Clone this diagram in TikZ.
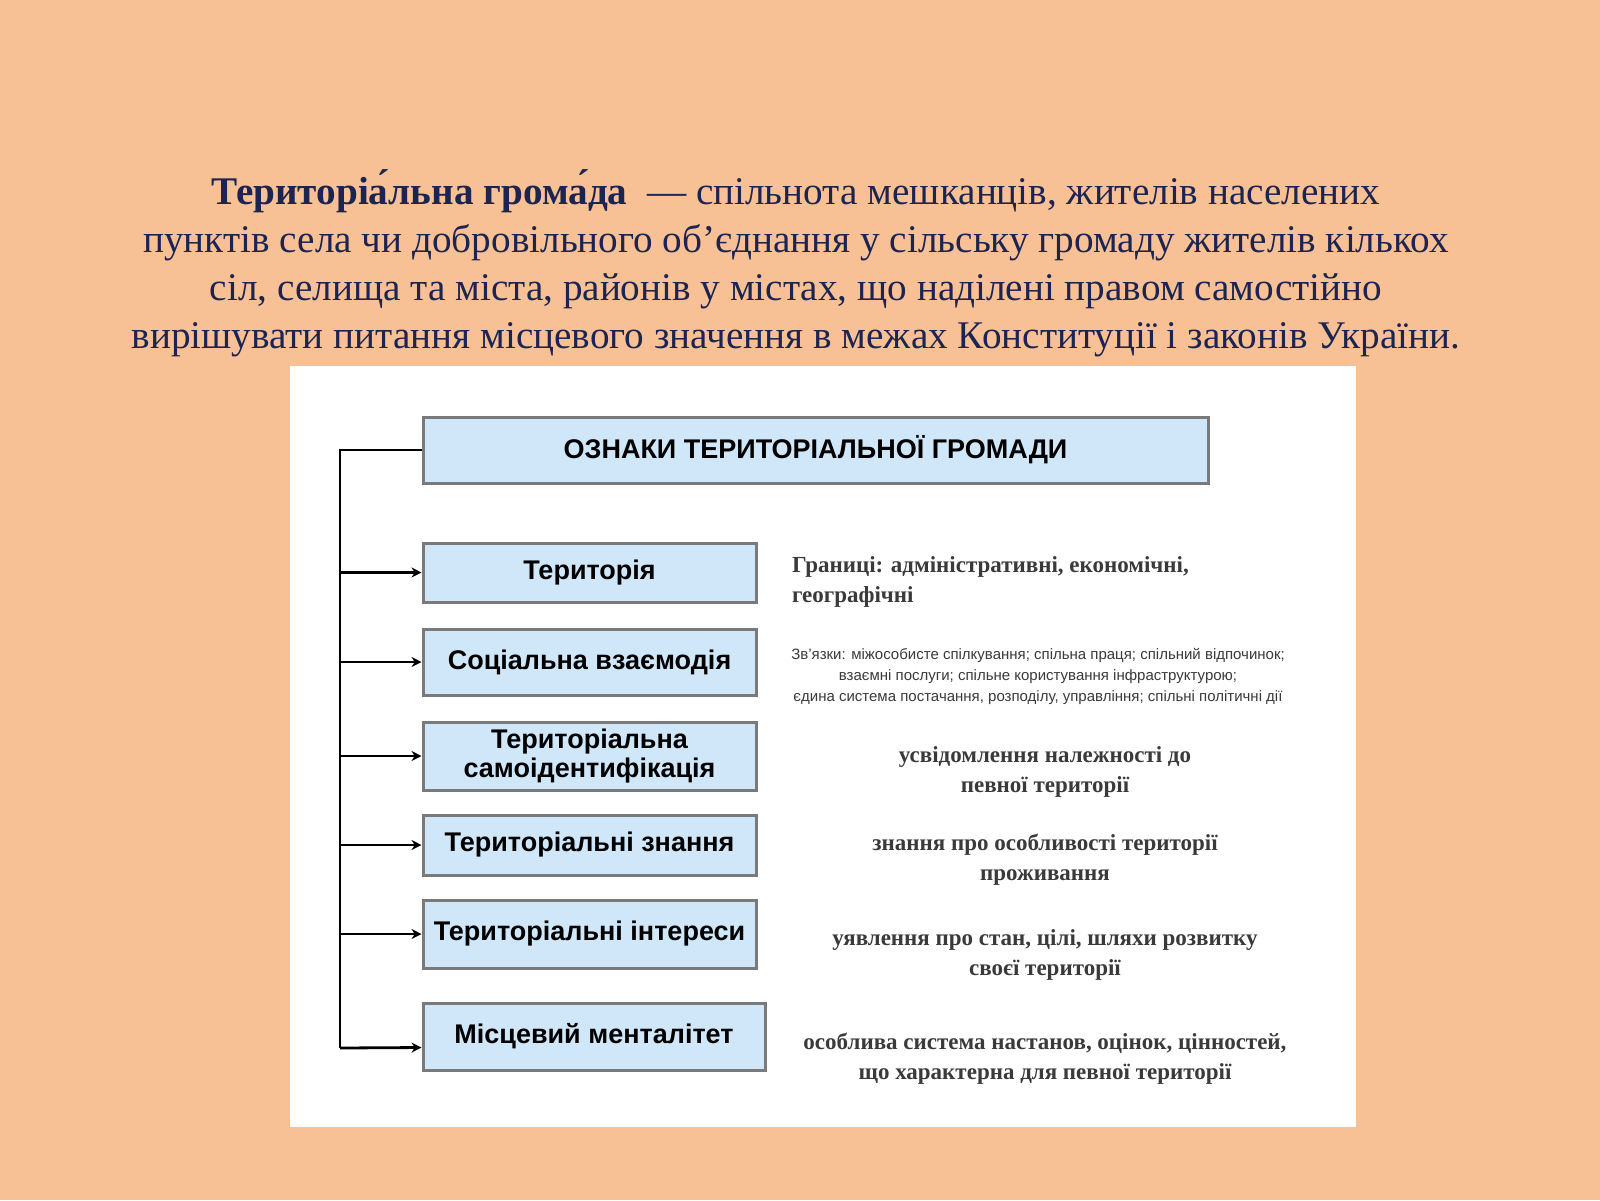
\documentclass[tikz,border=0pt]{standalone}
\usepackage{fontspec}
\setmainfont{Liberation Serif}
\setsansfont{Liberation Sans}
\usetikzlibrary{arrows.meta}
\definecolor{bg}{HTML}{F8C195}
\definecolor{navy}{HTML}{1C2451}
\definecolor{boxfill}{HTML}{CFE7F8}
\definecolor{boxline}{HTML}{7A7A7A}
\definecolor{gtext}{HTML}{3A3A3A}
\tikzset{
  sbox/.style={draw=boxline, line width=1.5pt, fill=boxfill, inner sep=0pt, font=\sffamily\bfseries\fontsize{13.5}{14.5}\selectfont, align=center},
  desc/.style={font=\bfseries\fontsize{11.5}{15}\selectfont, text=gtext, align=center},
  conn/.style={line width=1.4pt, black},
  arr/.style={conn, -{Stealth[length=5pt,width=5pt]}}
}
\begin{document}
\begin{tikzpicture}[x=0.5pt,y=-0.5pt]
\fill[bg] (0,0) rectangle (1600,1200);
\useasboundingbox (0,0) rectangle (1600,1200);
\node[text=navy, align=center, font=\fontsize{19.6}{24}\selectfont] (title) at (796,263)
 {\textbf{Територіа́льна грома́да} \ — спільнота мешканців, жителів населених\\
  пунктів села чи добровільного об\symbol{39}єднання у сільську громаду жителів кількох\\
  сіл, селища та міста, районів у містах, що наділені правом самостійно\\
  вирішувати питання місцевого значення в межах Конституції і законів України.};
\fill[white] (290,366) rectangle (1356,1127);
\node[sbox, minimum width=392.5pt, minimum height=33pt] (h) at (815.5,450) {ОЗНАКИ ТЕРИТОРІАЛЬНОЇ ГРОМАДИ};
\node[sbox, minimum width=166.5pt, minimum height=29.5pt] (b1) at (589.5,572.5) {Територія};
\node[sbox, minimum width=166.5pt, minimum height=33pt] (b2) at (589.5,662) {Соціальна взаємодія};
\node[sbox, minimum width=166.5pt, minimum height=34pt] (b3) at (589.5,756) {Територіальна\\самоідентифікація};
\node[sbox, minimum width=166.5pt, minimum height=30pt] (b4) at (589.5,845) {Територіальні знання};
\node[sbox, minimum width=166.5pt, minimum height=34pt] (b5) at (589.5,934) {Територіальні інтереси};
\node[sbox, minimum width=171pt, minimum height=33.5pt] (b6) at (594,1036.5) {Місцевий менталітет};
\coordinate (top) at (340,450);
\coordinate (bot) at (340,1048);
\draw[conn] (h.west) -- (top) -- (bot);
\foreach \b in {b1,b2,b3,b4,b5}{\draw[arr] (top |- \b.west) -- (\b.west);}
\draw[arr] (bot) -- ([yshift=-5.5pt]b6.west);
\node[desc, align=left, anchor=west] (d1) at (785,582) {Границі: адміністративні, економічні,\\географічні};
\node[text=gtext, font=\sffamily\fontsize{7.5}{10.5}\selectfont, align=center] (d2) at (1038,676) {Зв\symbol{39}язки: міжособисте спілкування; спільна праця; спільний відпочинок;\\взаємні послуги; спільне користування інфраструктурою;\\єдина система постачання, розподілу, управління; спільні політичні дії};
\node[desc] (d3) at (1045,772) {усвідомлення належності до\\певної території};
\node[desc] (d4) at (1045,860) {знання про особливості території\\проживання};
\node[desc] (d5) at (1045,955) {уявлення про стан, цілі, шляхи розвитку\\своєї території};
\node[desc] (d6) at (1045,1059) {особлива система настанов, оцінок, цінностей,\\що характерна для певної території};
\end{tikzpicture}
\end{document}
